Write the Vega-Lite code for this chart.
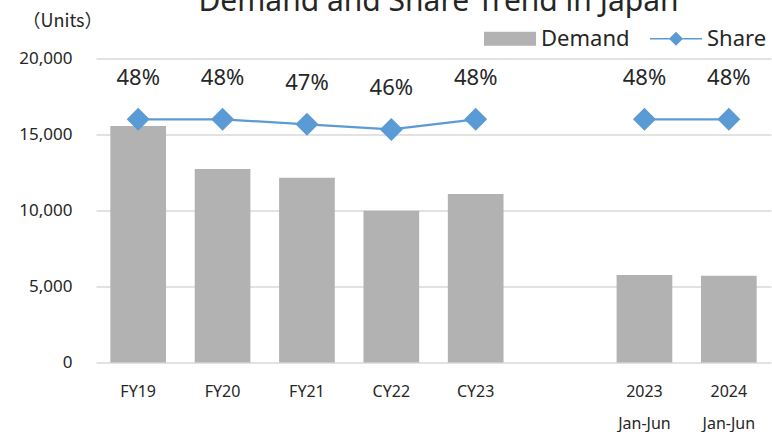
{
  "$schema": "https://vega.github.io/schema/vega-lite/v6.json",
  "autosize": {"type": "none"},
  "width": 675,
  "height": 304,
  "padding": {"left": 96, "top": 58.5, "right": 1, "bottom": 69.5},
  "background": "white",
  "title": {"text": "Demand and Share Trend in Japan", "fontSize": 30, "fontWeight": "normal", "color": "#262626", "font": "Noto Sans", "anchor": "middle", "offset": 0, "dy": 4, "dx": 5},
  "config": {
    "view": {"stroke": null},
    "font": "Noto Sans"
  },
  "data": {"values": [
    {"cat": "FY19", "demand": 15560, "share": 0.48, "seg": "a"},
    {"cat": "FY20", "demand": 12730, "share": 0.48, "seg": "a"},
    {"cat": "FY21", "demand": 12160, "share": 0.47, "seg": "a"},
    {"cat": "CY22", "demand": 9980, "share": 0.46, "seg": "a"},
    {"cat": "CY23", "demand": 11090, "share": 0.48, "seg": "a"},
    {"cat": "2023|Jan-Jun", "demand": 5760, "share": 0.48, "seg": "b"},
    {"cat": "2024|Jan-Jun", "demand": 5710, "share": 0.48, "seg": "b"}
  ]},
  "encoding": {
    "x": {
      "field": "cat", "type": "nominal",
      "scale": {"domain": ["FY19", "FY20", "FY21", "CY22", "CY23", " ", "2023|Jan-Jun", "2024|Jan-Jun"], "paddingInner": 0.34, "paddingOuter": 0.17},
      "axis": {"title": null, "labelAngle": 0, "domain": false, "ticks": false, "labelPadding": 21, "labelFontSize": 16, "labelColor": "#262626", "labelLineHeight": 32, "labelBaseline": "top", "labelExpr": "split(datum.label, '|')"}
    }
  },
  "layer": [
    {
      "mark": {"type": "bar", "color": "#b2b2b2"},
      "encoding": {
        "y": {"field": "demand", "type": "quantitative", "scale": {"domain": [0, 20000]},
          "axis": {"values": [0, 5000, 10000, 15000, 20000], "format": ",.0f", "grid": true, "gridColor": "#d9d9d9", "gridWidth": 1.5, "domain": false, "ticks": false, "labelPadding": 24, "labelFontSize": 17, "labelColor": "#262626",
            "title": "（Units）", "titleAngle": 0, "titleX": -34, "titleY": -37, "titleAlign": "center", "titleBaseline": "middle", "titleFontSize": 18, "titleFontWeight": "normal", "titleFont": "Noto Sans CJK JP", "titleColor": "#262626"}},
        "color": {"datum": "Demand", "type": "nominal",
          "scale": {"domain": ["Demand", "Share"], "range": ["#b2b2b2", "#5b9bd5"]},
          "legend": {"title": null, "orient": "none", "direction": "horizontal", "legendX": 388, "legendY": -30.8, "labelFontSize": 22, "labelColor": "#262626", "labelOffset": 20, "symbolOffset": 15, "columnPadding": 17, "padding": 0,
            "encode": {"symbols": {"update": {
              "shape": {"signal": "datum.value === 'Demand' ? 'M-1,-0.27L1,-0.27L1,0.27L-1,0.27Z' : 'M-1,0L1,0M-0.23,0L0,-0.23L0.23,0L0,0.23Z'"},
              "fill": {"signal": "datum.value === 'Demand' ? '#b2b2b2' : '#5b9bd5'"},
              "stroke": {"signal": "datum.value === 'Demand' ? '#b2b2b2' : '#5b9bd5'"},
              "strokeWidth": {"signal": "datum.value === 'Demand' ? 0 : 1.5"},
              "size": {"value": 2704},
              "opacity": {"value": 1}
            }}}}
        }
      }
    },
    {
      "layer": [
        {
          "mark": {"type": "line", "strokeWidth": 2.25},
          "encoding": {
            "y": {"field": "share", "type": "quantitative", "scale": {"domain": [0, 0.6]}, "axis": null},
            "detail": {"field": "seg", "type": "nominal"},
            "color": {"datum": "Share", "type": "nominal", "legend": null}
          }
        },
        {
          "mark": {"type": "point", "shape": "diamond", "filled": true, "size": 529, "opacity": 1},
          "encoding": {
            "y": {"field": "share", "type": "quantitative", "scale": {"domain": [0, 0.6]}, "axis": null},
            "color": {"datum": "Share", "type": "nominal", "legend": null}
          }
        },
        {
          "mark": {"type": "text", "dy": -41, "fontSize": 22, "color": "#262626", "baseline": "middle"},
          "encoding": {
            "y": {"field": "share", "type": "quantitative", "scale": {"domain": [0, 0.6]}, "axis": null},
            "text": {"field": "share", "type": "quantitative", "format": ".0%"}
          }
        }
      ]
    }
  ],
  "resolve": {"scale": {"y": "independent"}}
}
